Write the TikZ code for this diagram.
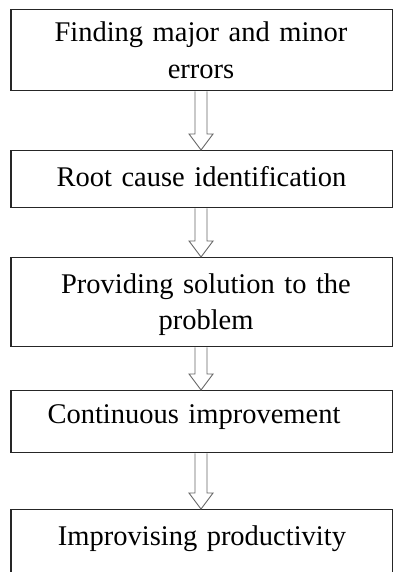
\documentclass[tikz,border=0pt]{standalone}
\usepackage{fontspec}
\setmainfont{Liberation Serif}
\usetikzlibrary{calc}
\begin{document}
\begin{tikzpicture}[x=1pt,y=1pt,
  box/.style={draw=black!85, line width=1.3pt, minimum width=382pt, inner sep=0pt, anchor=north},
  txt/.style={font=\fontsize{28.5}{36.5}\selectfont, text=black, inner sep=0pt, anchor=base, align=center, text width=370pt},
  hollow/.style={draw=black!60, line width=0.9pt, line join=miter},
]
\useasboundingbox (0,0) rectangle (392,-572);

% process boxes (the right edges run to the page border)
\node[box, minimum height=81pt] (b1) at (202,-9) {};
\node[box, minimum height=57pt] (b2) at (202,-150) {};
\node[box, minimum height=89pt] (b3) at (202,-257) {};
\node[box, minimum height=62pt] (b4) at (202,-390) {};
\node[box, minimum height=66pt] (b5) at (202,-509) {};

% step captions
\node[txt] (t1) at (201,-42) {Finding major and minor\\errors};
\node[txt] (t2) at (201.5,-186.7) {Root cause identification};
\node[txt] (t3) at (206,-293.3) {Providing solution to the\\problem};
\node[txt] (t4) at (194,-423) {Continuous improvement};
\node[txt] (t5) at (202,-545) {Improvising productivity};

% hollow block arrows between consecutive boxes
\foreach \a/\b in {b1/b2, b2/b3, b3/b4, b4/b5}{
  \draw[hollow] let \p1=(\a.south), \p2=(\b.north) in
    (\x1-7,\y1) -- (\x1-7,\y2+16) -- (\x1-13,\y2+16) -- (\x1-1,\y2)
    -- (\x1+11,\y2+16) -- (\x1+5,\y2+16) -- (\x1+5,\y1);
}
\end{tikzpicture}
\end{document}
